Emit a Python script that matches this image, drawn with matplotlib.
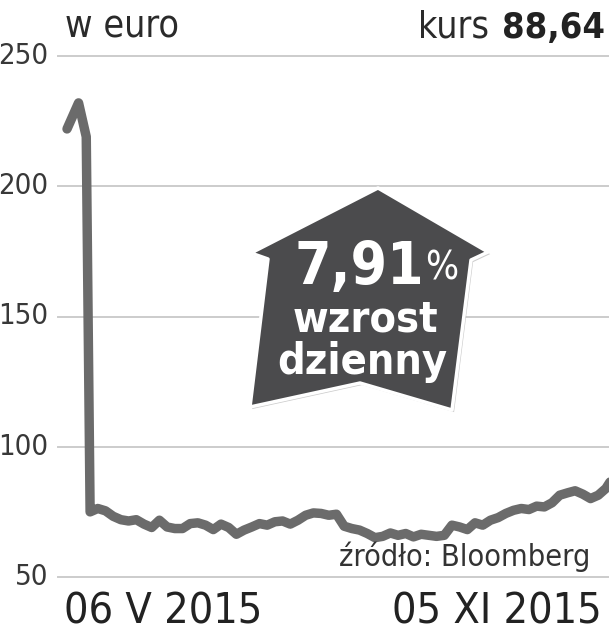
import numpy as np
import matplotlib.pyplot as plt
from matplotlib.patches import Polygon
import matplotlib.patheffects as pe

# first days: short spike before the collapse
spike_days = [0, 3, 5]
spike_vals = [222, 232, 219]

# after the drop, read every 2nd session
prices = [75.0, 76.3, 75.4, 73.3, 72.0, 71.5, 72.0, 70.3, 69.0, 71.8,
          69.2, 68.6, 68.6, 70.5, 70.8, 69.9, 68.2, 70.3, 69.0, 66.4,
          68.0, 69.2, 70.5, 69.9, 71.2, 71.5, 70.3, 71.8, 73.7, 74.6,
          74.4, 73.7, 74.1, 69.5, 68.6, 68.0, 66.7, 65.1, 65.6, 66.9,
          66.0, 66.7, 65.4, 66.4, 66.0, 65.6, 66.0, 69.9, 69.2, 68.2,
          70.8, 69.9, 71.8, 72.8, 74.4, 75.6, 76.3, 75.9, 77.2, 76.9,
          78.5, 81.4, 82.3, 83.1, 81.8, 80.1, 81.4, 84.0, 88.64]

yticks = [50, 100, 150, 200, 250]
date_labels = ["06 V 2015", "05 XI 2015"]

days = spike_days + list(6 + 2 * np.arange(len(prices)))
vals = spike_vals + prices

plt.rcParams['font.family'] = ['DejaVu Sans']
plt.rcParams['font.stretch'] = 'condensed'

W, H = 609, 640
fig = plt.figure(figsize=(W / 100, H / 100), dpi=100)
ax = fig.add_axes([58 / W, 1 - 577 / H, 1 - 58 / W, (577 - 56) / H])
ax.set_xlim(-2.34, 140.8)
ax.set_ylim(50, 250)
for s in ax.spines.values():
    s.set_visible(False)
ax.set_xticks([])
ax.set_yticks([])

for t in yticks:
    ax.axhline(t, color='#cccccc', lw=1.4, clip_on=False, zorder=1)
    ax.text(-0.017, t, str(t), transform=ax.get_yaxis_transform(),
            ha='right', va='center', fontsize=21, color='#383838')

ax.plot(days, vals, color='#6b6b6b', lw=6.8, solid_joinstyle='round',
        solid_capstyle='round', zorder=3)

fig.text(65 / W, 1 - 28 / H, "w euro", fontsize=27, color='#2a2a2a',
         ha='left', va='center')
fig.text(489 / W, 1 - 28 / H, "kurs", fontsize=27, color='#2a2a2a',
         ha='right', va='center')
fig.text(605 / W, 1 - 28 / H, "88,64", fontsize=26, color='#222222',
         fontweight='bold', ha='right', va='center')

fig.text(64 / W, 1 - 612 / H, date_labels[0], fontsize=31, color='#222222',
         ha='left', va='center')
fig.text(602 / W, 1 - 612 / H, date_labels[1], fontsize=31, color='#222222',
         ha='right', va='center')

fig.text(590 / W, 1 - 557 / H, "źródło: Bloomberg", fontsize=22,
         color='#333333', ha='right', va='center', zorder=5)

# badge (overlay in pixel coords)
ov = fig.add_axes([0, 0, 1, 1])
ov.set_xlim(0, W)
ov.set_ylim(H, 0)
ov.axis('off')
badge = [(378, 188), (488, 252), (471, 260), (452, 410), (360, 383),
         (250, 407), (268, 259), (251, 253)]
poly = Polygon(badge, closed=True, facecolor='#4b4b4d', edgecolor='white',
               lw=2.5, joinstyle='round', zorder=4,
               path_effects=[pe.SimplePatchShadow(offset=(1.5, -1.5),
                                                  shadow_rgbFace='#999999',
                                                  alpha=0.5),
                             pe.Normal()])
ov.add_patch(poly)
ov.text(424, 268, "7,91", fontsize=42, fontweight='bold', color='white',
        ha='right', va='center', zorder=5)
ov.text(425, 268, "%", fontsize=28, color='white', ha='left', va='center',
        zorder=5)
ov.text(365, 320, "wzrost", fontsize=31, fontweight='bold', color='white',
        ha='center', va='center', zorder=5)
ov.text(362, 362, "dzienny", fontsize=31, fontweight='bold', color='white',
        ha='center', va='center', zorder=5)

fig.savefig("out.png", dpi=100)
